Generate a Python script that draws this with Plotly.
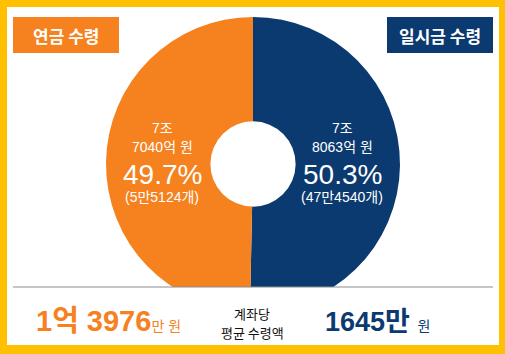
import plotly.graph_objects as go

# ---- data ----
labels = ["일시금 수령", "연금 수령"]
amount_jo = [7, 7]               # 조
amount_eok = [8063, 7040]        # 억
share_pct = [50.3, 49.7]
accounts = ["47만4540개", "5만5124개"]
avg_main = ["1645만", "1억 3976"]
avg_unit = ["원", "만 원"]
colors = ["#0B3A70", "#F5821F"]

W, H = 505, 354
FONT = "Liberation Sans, Noto Sans CJK KR"
HFONT = "Noto Sans CJK KR"

def px(x):
    return x / W

def py(y):
    return 1 - y / H

values = [j * 10000 + e for j, e in zip(amount_jo, amount_eok)]

fig = go.Figure(go.Pie(
    labels=labels, values=values, sort=False, direction="clockwise",
    rotation=0, hole=0.29, textinfo="none", hoverinfo="skip",
    marker=dict(colors=colors, line=dict(width=0)),
    domain=dict(x=[px(106), px(400)], y=[py(311), py(17)]),
    showlegend=False,
))

shapes = [
    dict(type="rect", xref="paper", yref="paper", layer="below",
         x0=px(7), x1=px(499), y0=py(345), y1=py(7),
         fillcolor="white", line=dict(width=0)),
    dict(type="rect", xref="paper", yref="paper", layer="above",
         x0=px(7), x1=px(499), y0=py(345), y1=py(287),
         fillcolor="white", line=dict(width=0)),
    dict(type="line", xref="paper", yref="paper", layer="above",
         x0=px(13), x1=px(493), y0=py(287), y1=py(287),
         line=dict(color="#8C8C8C", width=1)),
    dict(type="rect", xref="paper", yref="paper", layer="above",
         x0=px(13), x1=px(119), y0=py(53), y1=py(17),
         fillcolor=colors[1], line=dict(width=0)),
    dict(type="rect", xref="paper", yref="paper", layer="above",
         x0=px(387), x1=px(493), y0=py(53), y1=py(17),
         fillcolor=colors[0], line=dict(width=0)),
]

ann = []

def text(x, y, s, size, color, xanchor="center", bold=False, family=FONT):
    if bold:
        s = "<b>" + s + "</b>"
    ann.append(dict(x=px(x), y=py(y), xref="paper", yref="paper", text=s,
                    showarrow=False, xanchor=xanchor, yanchor="middle",
                    font=dict(family=family, size=size, color=color)))

# header labels
text(66, 35, labels[1], 17, "white", bold=True, family=HFONT)
text(440, 35, labels[0], 17, "white", bold=True, family=HFONT)

# slice labels: index 1 = left (연금), index 0 = right (일시금)
centers = {1: 162, 0: 342}
for i, cx in centers.items():
    text(cx, 128, f"{amount_jo[i]}조", 14, "white")
    text(cx, 147, f"{amount_eok[i]}억 원", 14, "white")
    text(cx, 174, f"{share_pct[i]}%", 28, "white")
    text(cx, 197, f"({accounts[i]})", 14, "white")

# bottom row
text(252, 313, "계좌당", 13, "#111111", family=HFONT)
text(252, 332, "평균 수령액", 13, "#111111", family=HFONT)

ann.append(dict(x=px(34), y=py(332), xref="paper", yref="paper",
                text=f"<b><span style='font-size:29px'>{avg_main[1]}</span></b>"
                     f"<span style='font-size:14px'>{avg_unit[1]}</span>",
                showarrow=False, xanchor="left", yanchor="bottom", yshift=-7,
                font=dict(family=FONT, size=29, color=colors[1])))
ann.append(dict(x=px(323), y=py(332), xref="paper", yref="paper",
                text=f"<b><span style='font-size:27px'>{avg_main[0]}</span></b> "
                     f"<span style='font-size:14px'>{avg_unit[0]}</span>",
                showarrow=False, xanchor="left", yanchor="bottom", yshift=-7,
                font=dict(family=FONT, size=27, color=colors[0])))

fig.update_layout(
    width=W, height=H, margin=dict(l=0, r=0, t=0, b=0),
    paper_bgcolor="#FFC000", plot_bgcolor="white",
    shapes=shapes, annotations=ann,
)

fig.write_html("out.html")
